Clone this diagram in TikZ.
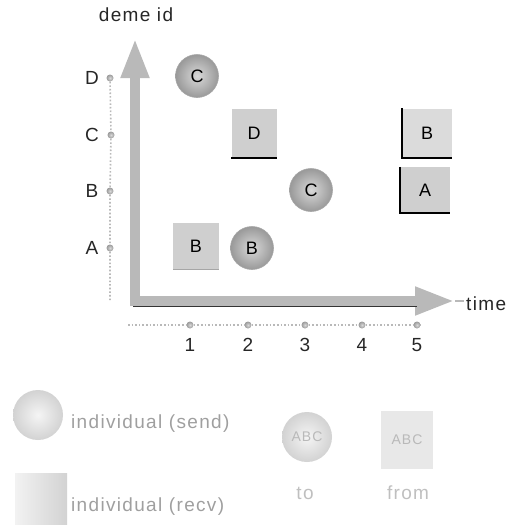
\documentclass[tikz,border=0pt]{standalone}
\usepackage{fontspec}
\setmainfont{Liberation Sans}[LetterSpace=7]
\usetikzlibrary{arrows.meta,shadings}
\tikzset{
  lbl/.style={font=\fontsize{19}{22}\selectfont, text=black!85, inner sep=1pt},
  sendball/.style={circle, minimum size=43pt, inner sep=0pt, inner color=gray!30, outer color=gray!80, draw=gray!70, line width=0.6pt, font=\fontsize{18}{20}\selectfont},
  recvbox/.style={rectangle, minimum width=46pt, minimum height=47pt, inner sep=0pt, fill=gray!38, font=\fontsize{18}{20}\selectfont},
  axisdot/.style={circle, inner sep=0pt, minimum size=7pt, inner color=gray!30, outer color=gray!80},
  axisarrow/.style={line width=10pt, draw=gray!55, -{Triangle[length=40pt,width=26pt]}},
  dotline/.style={draw=gray!55, dotted, line width=1.6pt},
  edge/.style={draw=black, line width=2pt},
  legtext/.style={font=\fontsize{19}{22}\selectfont, text=gray!75, inner sep=1pt},
}
\begin{document}
\begin{tikzpicture}[x=1pt,y=-1pt]
\useasboundingbox (0,0) rectangle (511,525);

% axes
\coordinate (vtip) at (135,38);
\coordinate (htip) at (455,301);
\coordinate (hend) at (464,301);
\draw[axisarrow] (135,306) -- (vtip);
\draw[axisarrow] (130,301) -- (htip);
\draw[gray!55, line width=1.5pt] (htip) -- (hend);
\draw[black!80, line width=1.6pt] (133,306.5) -- (417,306.5);
\node[lbl, anchor=west] (timelbl) at (465,304) {time};
\node[lbl] (demelbl) at (136,15) {deme id};

% left deme axis
\coordinate (lbot) at (110,302);
\node[axisdot] (dD) at (110,78) {};
\node[axisdot] (dC) at (111,135) {};
\node[axisdot] (dB) at (110,191) {};
\node[axisdot] (dA) at (110,248) {};
\draw[dotline] (dD) -- (dC) -- (dB) -- (dA) -- (lbot);
\node[lbl] (lD) at (92,78) {D};
\node[lbl] (lC) at (92,135) {C};
\node[lbl] (lB) at (92,191) {B};
\node[lbl] (lA) at (92,248) {A};

% bottom time axis
\coordinate (bstart) at (128,325);
\coordinate (bend) at (420,325);
\node[axisdot] (t1) at (190,325) {};
\node[axisdot] (t2) at (248,325) {};
\node[axisdot] (t3) at (305,325) {};
\node[axisdot] (t4) at (362,325) {};
\node[axisdot] (t5) at (417,325) {};
\draw[dotline] (bstart) -- (t1) -- (t2) -- (t3) -- (t4) -- (t5) -- (bend);
\node[lbl] (n1) at (190,345) {1};
\node[lbl] (n2) at (248,345) {2};
\node[lbl] (n3) at (305,345) {3};
\node[lbl] (n4) at (362,345) {4};
\node[lbl] (n5) at (417,345) {5};

% send individuals
\node[sendball] (sC1) at (197,76) {C};
\node[sendball] (sB) at (252,248) {B};
\node[sendball] (sC2) at (311,190) {C};

% recv individuals
\node[recvbox] (rB1) at (196,246) {B};
\draw[gray!70, line width=1.5pt] (rB1.south west) -- (rB1.south east);
\node[recvbox, minimum width=45pt, minimum height=49pt] (rD) at (254,133) {D};
\draw[edge] (rD.south west) -- (rD.south east);
\node[recvbox, minimum width=49pt, minimum height=49pt, fill=gray!28] (rB2) at (427,133) {B};
\draw[edge] (rB2.north west) -- (rB2.south west) -- (rB2.south east);
\node[recvbox, minimum width=49pt, minimum height=46pt] (rA) at (425,190) {A};
\draw[edge] (rA.north west) -- (rA.south west) -- (rA.south east);

% legend
\node[circle, minimum size=50pt, inner sep=0pt, inner color=gray!8, outer color=gray!35] (legsend) at (38,415) {};
\node[legtext, anchor=west] (legsendt) at (70,424) {individual (send)};
\node[rectangle, minimum width=52pt, minimum height=52pt, inner sep=0pt, left color=gray!10, right color=gray!35] (legrecv) at (41,499) {};
\node[legtext, anchor=west] (legrecvt) at (70,507) {individual (recv)};
\node[circle, minimum size=50pt, inner sep=0pt, inner color=gray!8, outer color=gray!35, font=\fontsize{14}{16}\selectfont, text=gray!55] (legto) at (307,437) {ABC};
\node[legtext, text=gray!50] (legtot) at (305,493) {to};
\node[rectangle, minimum width=52pt, minimum height=58pt, inner sep=0pt, fill=gray!18, font=\fontsize{14}{16}\selectfont, text=gray!55] (legfrom) at (407,440) {ABC};
\node[legtext, text=gray!50] (legfromt) at (408,493) {from};
\end{tikzpicture}
\end{document}
